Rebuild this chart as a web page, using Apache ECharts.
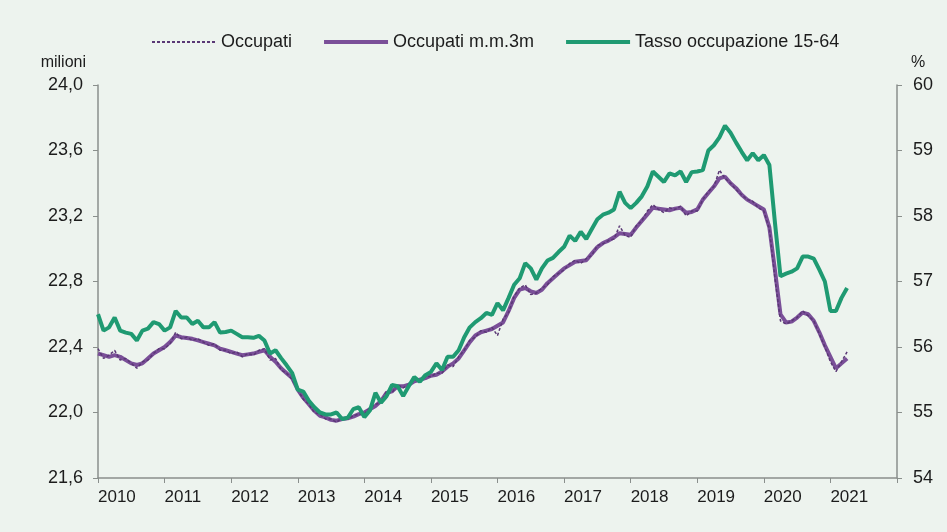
<!DOCTYPE html>
<html>
<head>
<meta charset="utf-8">
<script src="https://cdn.jsdelivr.net/npm/echarts@6/dist/echarts.min.js"></script>
<style>
html, body { margin: 0; padding: 0; background: #edf3ee; }
#chart { width: 947px; height: 532px; }
</style>
</head>
<body>
<div id="chart"></div>
<script>
// month index 0 = gen 2010
var years = ['2010','2011','2012','2013','2014','2015','2016','2017','2018','2019','2020','2021'];

// Occupati (milioni), dato mensile
var occupati = [
	22.39, 22.33, 22.35, 22.38, 22.32, 22.33, 22.30, 22.27, 22.31, 22.32, 22.36, 22.39,
	22.39, 22.42, 22.49, 22.45, 22.46, 22.44, 22.45, 22.43, 22.41, 22.42, 22.38, 22.38,
	22.36, 22.37, 22.34, 22.36, 22.35, 22.38, 22.39, 22.32, 22.33, 22.26, 22.24, 22.20,
	22.14, 22.08, 22.05, 22.00, 21.99, 21.96, 21.96, 21.94, 21.97, 21.96, 21.98, 21.99,
	21.99, 22.03, 22.05, 22.06, 22.13, 22.12, 22.17, 22.15, 22.17, 22.20, 22.19, 22.22,
	22.22, 22.24, 22.24, 22.29, 22.28, 22.34, 22.38, 22.44, 22.46, 22.50, 22.49, 22.52,
	22.47, 22.57, 22.61, 22.71, 22.76, 22.78, 22.72, 22.73, 22.76, 22.78, 22.83, 22.85,
	22.87, 22.91, 22.93, 22.91, 22.94, 22.96, 23.02, 23.03, 23.05, 23.06, 23.14, 23.08,
	23.07, 23.14, 23.17, 23.23, 23.27, 23.24, 23.22, 23.25, 23.24, 23.26, 23.20, 23.23,
	23.23, 23.30, 23.35, 23.38, 23.48, 23.43, 23.40, 23.36, 23.33, 23.30, 23.29, 23.25,
	23.23, 23.12, 22.82, 22.56, 22.54, 22.56, 22.58, 22.62, 22.59, 22.56, 22.48, 22.40,
	22.31, 22.25, 22.31, 22.37
];

// Occupati, media mobile a 3 mesi
var occupatiMm3 = [
	22.36, 22.35, 22.34, 22.35, 22.34, 22.32, 22.30, 22.29, 22.30, 22.33, 22.36, 22.38,
	22.40, 22.43, 22.47, 22.46, 22.455, 22.45, 22.44, 22.43, 22.42, 22.41, 22.39, 22.38,
	22.37, 22.36, 22.35, 22.355, 22.36, 22.37, 22.38, 22.34, 22.31, 22.27, 22.24, 22.21,
	22.14, 22.09, 22.05, 22.01, 21.98, 21.97, 21.955, 21.95, 21.96, 21.965, 21.975, 21.99,
	22.00, 22.02, 22.04, 22.07, 22.12, 22.13, 22.16, 22.16, 22.17, 22.19, 22.20, 22.21,
	22.225, 22.23, 22.25, 22.28, 22.30, 22.33, 22.38, 22.43, 22.47, 22.49, 22.50, 22.51,
	22.53, 22.55, 22.62, 22.70, 22.75, 22.76, 22.74, 22.73, 22.75, 22.79, 22.82, 22.85,
	22.88, 22.90, 22.92, 22.925, 22.93, 22.97, 23.01, 23.035, 23.05, 23.07, 23.095, 23.09,
	23.085, 23.13, 23.17, 23.21, 23.25, 23.245, 23.24, 23.235, 23.245, 23.25, 23.22, 23.225,
	23.24, 23.30, 23.34, 23.38, 23.43, 23.44, 23.40, 23.37, 23.33, 23.30, 23.28, 23.26,
	23.24, 23.13, 22.87, 22.60, 22.55, 22.555, 22.58, 22.61, 22.60, 22.56, 22.49, 22.41,
	22.34, 22.27, 22.30, 22.33
];

// Tasso di occupazione 15-64 (%)
var tasso = [
	56.50, 56.25, 56.30, 56.45, 56.25, 56.22, 56.20, 56.10, 56.25, 56.28, 56.38, 56.35,
	56.25, 56.30, 56.55, 56.45, 56.45, 56.35, 56.40, 56.30, 56.30, 56.38, 56.22, 56.23,
	56.25, 56.20, 56.15, 56.15, 56.14, 56.17, 56.10, 55.90, 55.95, 55.83, 55.72, 55.60,
	55.35, 55.32, 55.18, 55.08, 55.00, 54.97, 54.97, 55.00, 54.90, 54.92, 55.05, 55.08,
	54.93, 55.03, 55.30, 55.15, 55.25, 55.42, 55.40, 55.25, 55.40, 55.54, 55.47, 55.57,
	55.62, 55.75, 55.65, 55.85, 55.85, 55.95, 56.15, 56.30, 56.38, 56.44, 56.52, 56.49,
	56.67, 56.56, 56.75, 56.95, 57.05, 57.28, 57.20, 57.03, 57.20, 57.32, 57.36, 57.45,
	57.53, 57.70, 57.62, 57.76, 57.65, 57.80, 57.95, 58.02, 58.05, 58.10, 58.37, 58.20,
	58.12, 58.20, 58.30, 58.45, 58.68, 58.60, 58.52, 58.65, 58.62, 58.68, 58.52, 58.67,
	58.68, 58.70, 59.00, 59.08, 59.20, 59.38, 59.27, 59.12, 58.98, 58.85, 58.96, 58.85,
	58.93, 58.78, 57.90, 57.08, 57.12, 57.15, 57.20, 57.38, 57.38, 57.35, 57.18, 57.00,
	56.55, 56.55, 56.75, 56.90
];

function toPoints(arr){
	var out = [];
	for(var i=0; i<arr.length; i++){
		out.push([i, arr[i]]);
	}
	return out;
}

var font = "'Liberation Sans', Arial, sans-serif";
var txt = '#1c1c1c';
var axisCol = '#8a8f8c';
var purple = '#7a4f98';
var purpleDark = '#5a3775';
var green = '#1f9a72';

var myChart = echarts.init(document.getElementById('chart'));
var option = {
	backgroundColor: '#edf3ee',
	textStyle: { fontFamily: font, color: txt },
	animation: false,
	legend: {
		left: 146,
		top: 28,
		itemWidth: 64,
		itemHeight: 12,
		itemGap: 30,
		itemStyle: { opacity: 0 },
		textStyle: { fontFamily: font, fontSize: 18, color: txt },
		data: [
			{ name: 'Occupati', lineStyle: { width: 2, type: [3, 2], color: purpleDark } },
			{ name: 'Occupati m.m.3m', lineStyle: { width: 4, color: purple } },
			{ name: 'Tasso occupazione 15-64', lineStyle: { width: 4, color: green } }
		]
	},
	grid: {
		left: 98,
		right: 50,
		top: 85,
		bottom: 54
	},
	xAxis: {
		type: 'value',
		min: 0,
		max: 144,
		interval: 12,
		splitLine: { show: false },
		axisLine: { lineStyle: { color: axisCol, width: 1.5 } },
		axisTick: { show: true, length: 5, lineStyle: { color: axisCol } },
		axisLabel: {
			fontFamily: font,
			fontSize: 17,
			color: txt,
			align: 'left',
			margin: 11,
			formatter: function(v){
				var k = Math.round(v / 12);
				return years[k] || '';
			}
		}
	},
	yAxis: [
		{
			type: 'value',
			min: 21.6,
			max: 24.0,
			interval: 0.4,
			name: 'milioni',
			nameLocation: 'end',
			nameGap: 14,
			nameTextStyle: { fontFamily: font, fontSize: 16, color: txt, align: 'right', padding: [0, 12, 0, 0] },
			splitLine: { show: false },
			axisLine: { show: true, lineStyle: { color: axisCol, width: 1.5 } },
			axisTick: { show: true, length: 5, lineStyle: { color: axisCol } },
			axisLabel: {
				fontFamily: font,
				fontSize: 18,
				color: txt,
				margin: 15,
				formatter: function(v){ return v.toFixed(1).replace('.', ','); }
			}
		},
		{
			type: 'value',
			min: 54,
			max: 60,
			interval: 1,
			name: '%',
			nameLocation: 'end',
			nameGap: 14,
			nameTextStyle: { fontFamily: font, fontSize: 16, color: txt, align: 'left', padding: [0, 0, 0, 14] },
			splitLine: { show: false },
			axisLine: { show: true, lineStyle: { color: axisCol, width: 1.5 } },
			axisTick: { show: true, length: 5, lineStyle: { color: axisCol } },
			axisLabel: {
				fontFamily: font,
				fontSize: 18,
				color: txt,
				margin: 16
			}
		}
	],
	series: [
		{
			name: 'Occupati m.m.3m',
			type: 'line',
			yAxisIndex: 0,
			symbol: 'none',
			data: toPoints(occupatiMm3),
			lineStyle: { color: purple, width: 4 },
			itemStyle: { color: purple },
			z: 2
		},
		{
			name: 'Occupati',
			type: 'line',
			yAxisIndex: 0,
			symbol: 'none',
			data: toPoints(occupati),
			lineStyle: { color: purpleDark, width: 1.5, type: [3, 2] },
			itemStyle: { color: purpleDark },
			z: 3
		},
		{
			name: 'Tasso occupazione 15-64',
			type: 'line',
			yAxisIndex: 1,
			symbol: 'none',
			data: toPoints(tasso),
			lineStyle: { color: green, width: 4 },
			itemStyle: { color: green },
			z: 4
		}
	]
};
myChart.setOption(option);
</script>
</body>
</html>
